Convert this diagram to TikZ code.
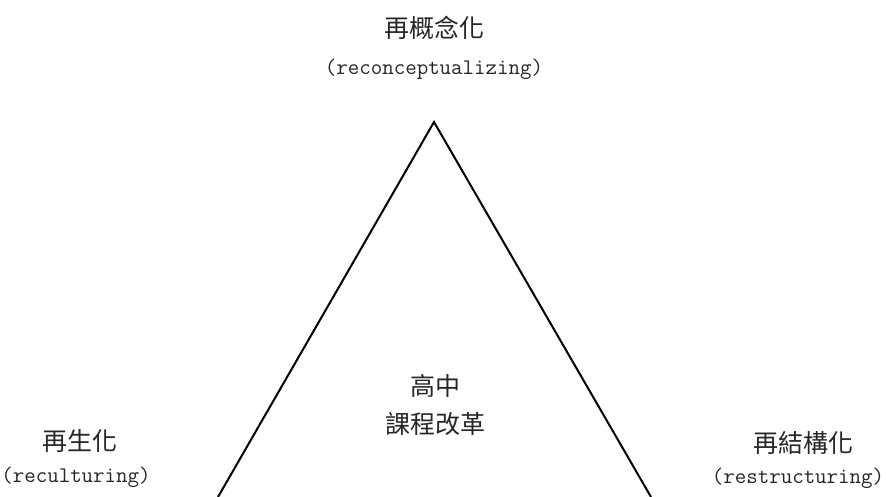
\documentclass[tikz,border=0pt]{standalone}
\usepackage{fontspec}
\newfontfamily\cjk{Noto Sans CJK TC}
\usepackage{tikz}

\begin{document}
\begin{tikzpicture}[x=1pt, y=-1pt, node distance={36pt}, thick,
    zh/.style = {font=\cjk\fontsize{25}{30}\selectfont, inner sep=0pt, text=black!85},
    en/.style = {font=\ttfamily\fontsize{22.3}{27}\selectfont, inner sep=0pt, text=black!85}]
    \useasboundingbox (0,0) rectangle (886,497);
    \coordinate (top) at (434,122);
    \coordinate (left) at (218,497);
    \coordinate (right) at (651,497);
    \draw[line width=2pt] (left) -- (top) -- (right);
    \node[zh] (1) at (434,28) {再概念化};
    \node[en] (1e)[below of=1, node distance=41pt] {(reconceptualizing)};
    \node[zh] (2) at (80,441) {再生化};
    \node[en] (2e)[below of=2, xshift=-4pt] {(reculturing)};
    \node[zh] (3) at (803,443) {再結構化};
    \node[en] (3e)[below of=3, node distance=35pt, xshift=-5pt] {(restructuring)};
    \node[zh] (4) at (435,386) {高中};
    \node[zh] (5)[below of=4, node distance=38pt] {課程改革};
  \end{tikzpicture}
\end{document}
